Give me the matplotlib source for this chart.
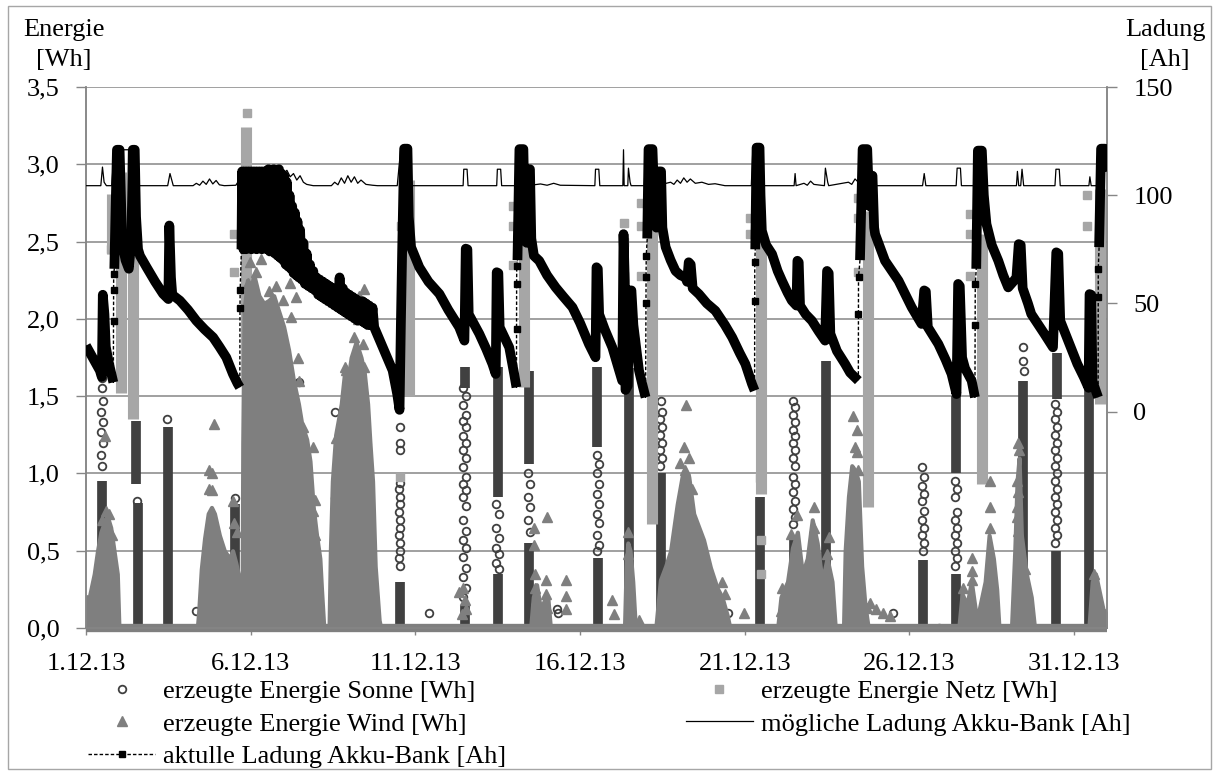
import numpy as np
import matplotlib
matplotlib.use('Agg')
import matplotlib.pyplot as plt
from matplotlib.ticker import FuncFormatter
from matplotlib.patches import Rectangle

plt.rcParams['font.family'] = ['Liberation Serif', 'DejaVu Serif']
plt.rcParams['font.size'] = 19

# x = days since 1.12.13 00:00
x_tick_pos = [0, 5, 10, 15, 20, 25, 30]
x_tick_labels = ['1.12.13', '6.12.13', '11.12.13', '16.12.13', '21.12.13', '26.12.13', '31.12.13']
left_ticks = [0.0, 0.5, 1.0, 1.5, 2.0, 2.5, 3.0, 3.5]
right_ticks = [0, 50, 100, 150]

# erzeugte Energie Sonne [Wh]: dense columns (day, from, to) and single circles (day, Wh)
sun_columns = [(0.49, 0.0, 0.95), (1.53, 0.93, 1.34), (1.58, 0.0, 0.81), (2.49, 0.0, 1.30),
               (4.52, 0.05, 0.80), (9.52, 0.0, 0.30), (11.5, 1.55, 1.69), (11.5, 0.0, 0.15),
               (12.5, 0.85, 1.69), (12.5, 0.0, 0.35), (13.45, 1.06, 1.66), (13.45, 0.0, 0.55),
               (15.52, 1.17, 1.69), (15.55, 0.0, 0.45), (16.48, 0.0, 1.68), (17.45, 0.0, 1.0),
               (20.47, 0.0, 0.85), (21.5, 0.0, 0.6), (22.47, 0.0, 1.73), (25.4, 0.0, 0.44),
               (26.43, 1.0, 1.5), (26.43, 0.0, 0.35), (28.45, 0.0, 1.6), (29.47, 1.48, 1.78),
               (29.44, 0.0, 0.5), (30.45, 0.0, 1.62)]
sun_points = [(0.49, 1.05), (0.46, 1.12), (0.52, 1.2), (0.47, 1.27), (0.51, 1.33), (0.46, 1.4),
              (0.52, 1.47), (0.48, 1.55), (0.5, 1.62), (1.56, 0.82), (2.47, 1.35), (3.35, 0.11),
              (4.52, 0.84), (6.48, 1.59), (7.55, 1.40), (7.55, 0.84), (7.55, 0.74),
              (9.52, 0.4), (9.5, 0.45), (9.54, 0.5), (9.52, 0.55), (9.5, 0.6), (9.54, 0.65),
              (9.52, 0.7), (9.5, 0.75), (9.54, 0.8), (9.52, 0.85), (9.5, 0.9), (9.53, 0.94),
              (9.52, 1.15), (9.52, 1.2), (9.52, 1.3), (10.4, 0.1),
              (11.46, 1.55), (11.53, 1.5), (11.46, 1.44), (11.53, 1.38), (11.46, 1.34), (11.53, 1.3),
              (11.46, 1.24), (11.53, 1.2), (11.46, 1.15), (11.53, 1.1), (11.46, 1.04), (11.53, 0.98),
              (11.46, 0.93), (11.53, 0.89), (11.46, 0.85), (11.53, 0.79), (11.46, 0.7), (11.53, 0.63),
              (11.46, 0.57), (11.53, 0.52), (11.46, 0.46), (11.53, 0.39), (11.46, 0.33), (11.53, 0.26),
              (11.46, 0.2),
              (12.46, 0.8), (12.54, 0.74), (12.46, 0.65), (12.54, 0.58), (12.46, 0.52), (12.54, 0.48),
              (12.46, 0.42), (12.54, 0.38),
              (13.42, 1.0), (13.48, 0.93), (13.42, 0.85), (13.48, 0.78), (13.42, 0.7), (13.48, 0.62),
              (14.3, 0.12), (14.34, 0.1),
              (15.52, 1.12), (15.57, 1.06), (15.52, 1.0), (15.57, 0.93), (15.52, 0.87), (15.57, 0.8),
              (15.52, 0.74), (15.57, 0.68), (15.52, 0.6), (15.57, 0.54), (15.52, 0.5),
              (17.42, 1.05), (17.48, 1.1), (17.42, 1.15), (17.48, 1.2), (17.42, 1.25), (17.48, 1.3),
              (17.42, 1.35), (17.48, 1.4), (17.45, 1.47), (19.5, 0.1),
              (21.47, 1.47), (21.53, 1.43), (21.47, 1.38), (21.53, 1.33), (21.47, 1.28), (21.53, 1.24),
              (21.47, 1.2), (21.53, 1.15), (21.47, 1.1), (21.53, 1.05), (21.47, 0.98), (21.53, 0.93),
              (21.47, 0.88), (21.53, 0.82), (21.47, 0.77), (21.53, 0.72), (21.47, 0.67),
              (24.5, 0.1), (25.9, 0.0),
              (25.37, 1.04), (25.43, 0.98), (25.37, 0.92), (25.43, 0.87), (25.37, 0.82), (25.43, 0.76),
              (25.37, 0.7), (25.43, 0.65), (25.37, 0.6), (25.43, 0.55), (25.4, 0.5),
              (26.4, 0.95), (26.46, 0.9), (26.4, 0.85), (26.46, 0.75), (26.4, 0.7), (26.46, 0.65),
              (26.4, 0.6), (26.46, 0.55), (26.4, 0.5), (26.46, 0.45), (26.4, 0.4),
              (28.45, 1.82), (28.45, 1.73), (28.47, 1.66),
              (29.41, 1.45), (29.47, 1.4), (29.41, 1.35), (29.47, 1.3), (29.41, 1.25), (29.47, 1.2),
              (29.41, 1.15), (29.47, 1.1), (29.41, 1.05), (29.47, 1.0), (29.41, 0.95), (29.47, 0.9),
              (29.41, 0.85), (29.47, 0.8), (29.41, 0.75), (29.47, 0.7), (29.41, 0.65), (29.47, 0.6),
              (29.41, 0.55)]

# erzeugte Energie Netz [Wh]
netz_columns = [(0.8, 2.42, 2.81), (1.06, 1.52, 2.95), (1.42, 1.35, 3.0), (4.85, 1.58, 3.24),
                (9.82, 1.5, 2.9), (13.3, 1.56, 2.9), (17.2, 0.67, 2.9), (20.48, 0.87, 2.55),
                (23.75, 0.78, 2.7), (27.2, 0.93, 2.55), (30.8, 1.45, 2.84)]
netz_points = [(4.88, 3.33), (4.5, 2.55), (4.5, 2.3), (9.55, 2.6), (9.52, 0.98), (12.95, 2.73),
               (12.95, 2.6), (12.95, 2.35), (16.33, 2.62), (16.33, 2.5), (16.35, 2.28),
               (16.85, 2.75), (16.85, 2.6), (16.85, 2.28), (20.15, 2.65), (20.15, 2.55),
               (20.45, 0.97), (20.5, 0.57), (20.5, 0.35), (23.45, 2.78), (23.45, 2.65),
               (23.45, 2.3), (26.85, 2.68), (26.85, 2.55), (26.85, 2.28), (30.4, 2.8),
               (30.4, 2.6), (0.75, 2.45)]

# erzeugte Energie Wind [Wh]: outline of the dense clusters, and single triangles
wind_env_day = [0.0, 0.05, 0.15, 0.25, 0.35, 0.45, 0.55, 0.65, 0.75, 0.85, 0.95, 1.0,
                3.38, 3.42, 3.5, 3.6, 3.71, 3.81, 3.9, 4.05, 4.2, 4.36, 4.45, 4.55, 4.67, 4.74,
                4.76, 4.8, 4.9, 5.0, 5.1, 5.25, 5.4, 5.55, 5.7, 5.85, 6.0, 6.15, 6.3, 6.45, 6.55,
                6.7, 6.8, 6.9, 7.0, 7.1, 7.15, 7.22,
                7.38, 7.42, 7.48, 7.58, 7.75, 7.85, 7.95, 8.05, 8.2, 8.35, 8.45, 8.55, 8.62, 8.7,
                8.78, 8.9, 8.95,
                13.5, 13.58, 13.68, 13.8, 13.92, 14.02, 14.1,
                16.35, 16.4, 16.45, 16.52, 16.6, 16.68,
                17.3, 17.44, 17.6, 17.75, 17.95, 18.1, 18.3, 18.45, 18.75, 18.96, 19.16, 19.31,
                19.47, 19.55,
                21.0, 21.1, 21.3, 21.45, 21.6, 21.75, 21.9, 22.05, 22.2, 22.35, 22.5, 22.65, 22.75,
                23.0, 23.05, 23.15, 23.25, 23.35, 23.45, 23.55, 23.65, 23.75,
                26.5, 26.6, 26.75, 26.88, 27.0, 27.1, 27.3, 27.42, 27.55, 27.65, 27.72,
                28.1, 28.2, 28.27, 28.33, 28.4, 28.55, 28.7, 28.8,
                30.45, 30.55, 30.65, 30.8, 30.95, 31.0]
wind_env_top = [0.12, 0.15, 0.25, 0.35, 0.5, 0.62, 0.68, 0.72, 0.65, 0.5, 0.35, 0.0,
                0.0, 0.1, 0.38, 0.58, 0.74, 0.78, 0.74, 0.6, 0.5, 0.45, 0.5, 0.42, 0.3, 0.15,
                1.2, 2.05, 2.25, 2.2, 2.28, 2.15, 2.1, 2.12, 2.15, 2.05, 1.95, 1.8, 1.6, 1.45, 1.32,
                1.22, 1.08, 0.78, 0.6, 0.45, 0.25, 0.0,
                0.0, 0.5, 0.95, 1.25, 1.45, 1.65, 1.6, 1.75, 1.85, 1.75, 1.65, 1.45, 1.2, 0.95,
                0.4, 0.05, 0.0,
                0.0, 0.2, 0.28, 0.12, 0.18, 0.2, 0.0,
                0.0, 0.4, 0.55, 0.5, 0.3, 0.0,
                0.0, 0.31, 0.4, 0.5, 0.8, 0.98, 0.98, 0.74, 0.57, 0.39, 0.26, 0.2,
                0.08, 0.0,
                0.0, 0.2, 0.3, 0.52, 0.62, 0.35, 0.45, 0.7, 0.55, 0.3, 0.45, 0.3, 0.0,
                0.0, 0.5, 0.85, 1.05, 1.02, 0.95, 0.4, 0.15, 0.0,
                0.0, 0.22, 0.15, 0.3, 0.12, 0.1, 0.3, 0.6, 0.45, 0.25, 0.0,
                0.0, 0.5, 0.95, 1.1, 0.6, 0.35, 0.2, 0.0,
                0.0, 0.3, 0.35, 0.2, 0.05, 0.0]
wind_points = [(0.58, 1.24), (0.62, 0.76), (0.7, 0.74), (0.5, 0.7), (0.8, 0.6), (0.04, 0.18),
               (3.9, 1.32), (3.74, 1.02), (3.84, 1.0), (3.72, 0.9), (3.82, 0.89), (4.46, 0.82),
               (4.5, 0.68), (4.58, 0.62),
               (4.97, 2.37), (5.32, 2.39), (4.92, 2.23), (5.22, 2.14), (5.78, 2.21), (5.98, 2.12),
               (6.18, 2.23), (6.38, 2.14), (6.23, 2.01), (6.43, 1.75), (6.48, 1.6), (6.38, 1.41),
               (6.89, 1.17), (6.94, 0.83), (6.89, 0.76), (6.94, 0.6), (6.6, 1.3), (5.15, 2.3),
               (5.55, 2.18),
               (7.85, 1.69), (7.9, 1.51), (8.45, 2.19), (8.3, 2.15), (8.15, 1.88), (8.4, 1.84),
               (7.9, 1.67), (8.45, 1.69), (8.0, 1.6), (7.59, 1.23), (8.5, 1.22), (8.25, 2.0),
               (11.34, 0.23), (11.45, 0.26), (11.5, 0.18), (11.42, 0.09), (11.55, 0.12),
               (13.6, 0.65), (13.6, 0.54), (14.0, 0.72), (13.96, 0.31), (13.97, 0.22), (14.0, 0.13),
               (14.56, 0.31), (14.58, 0.21), (14.58, 0.12), (13.62, 0.35), (13.64, 0.26),
               (13.66, 0.18),
               (15.98, 0.18), (16.02, 0.09), (16.79, 0.05), (16.45, 0.62), (16.47, 0.48),
               (18.23, 1.44), (18.15, 1.17), (18.05, 1.07), (18.3, 1.1), (18.2, 1.02), (18.4, 0.9),
               (19.97, 0.1), (19.3, 0.3), (19.4, 0.22),
               (21.13, 0.26), (21.1, 0.11), (21.4, 0.61), (21.6, 0.73), (22.09, 0.78),
               (22.09, 0.65), (22.55, 0.59), (22.5, 0.48),
               (23.3, 1.37), (23.4, 1.28), (23.35, 1.17), (23.4, 1.14), (23.45, 1.02), (23.7, 0.13),
               (23.8, 0.16), (24.0, 0.12), (24.2, 0.1), (24.4, 0.08),
               (26.89, 0.45), (26.89, 0.37), (26.9, 0.31), (27.44, 0.95), (27.44, 0.78),
               (27.44, 0.65), (26.63, 0.26),
               (28.3, 1.2), (28.32, 1.15), (28.28, 0.95), (28.3, 0.88), (28.28, 0.78), (28.28, 0.72),
               (28.3, 0.63), (28.3, 0.5), (28.52, 0.38), (30.6, 0.35), (30.95, 0.09)]
wind_base_day = [0.0, 31.0]
wind_base = [0.0, 0.0]

# mögliche Ladung Akku-Bank [Ah]
moeglich = [(0.0, 104.4), (0.45, 104.4), (0.5, 113), (0.55, 106), (0.62, 104.4), (0.78, 104.4),
            (0.86, 121), (1.55, 121), (1.6, 104.4), (2.48, 104.4), (2.55, 110), (2.65, 104.4),
            (3.25, 104.4), (3.35, 105.5), (3.45, 104.6), (3.55, 106.5), (3.65, 105), (3.75, 107.5),
            (3.85, 105.2), (3.95, 106.8), (4.05, 104.8), (4.2, 104.4), (4.55, 104.6), (4.65, 107),
            (4.72, 111), (5.5, 111), (5.7, 112.5), (5.8, 110.5), (5.9, 113), (6.0, 110), (6.1, 111.5),
            (6.2, 108.5), (6.3, 110), (6.4, 107), (6.5, 109), (6.6, 106), (6.7, 105), (6.9, 104.4),
            (7.45, 104.4), (7.55, 106), (7.65, 104.8), (7.75, 108), (7.85, 105.5), (7.95, 109),
            (8.05, 106), (8.15, 108.5), (8.25, 105.5), (8.35, 107), (8.5, 105), (8.7, 104.6),
            (8.85, 104.4), (9.45, 104.4), (9.55, 120.6), (9.75, 120.6), (9.85, 104.4),
            (11.45, 104.4), (11.47, 112), (11.57, 112), (11.6, 104.4), (12.47, 104.4), (12.49, 112),
            (12.59, 112), (12.62, 104.4), (13.05, 104.4), (13.12, 121.3), (13.35, 121.3),
            (13.4, 104.4), (13.8, 105.2), (14.0, 104.6), (14.2, 105.5), (14.4, 104.6),
            (15.45, 104.4), (15.47, 112), (15.57, 112), (15.6, 104.4), (16.3, 104.4), (16.32, 121),
            (16.34, 104.4), (16.45, 104.4), (16.47, 112.5), (16.52, 106), (16.55, 104.4),
            (16.95, 104.4), (17.0, 121.3), (17.28, 121.3), (17.32, 104.4), (17.75, 106),
            (17.85, 105), (17.95, 107), (18.05, 105.5), (18.15, 108), (18.25, 106), (18.35, 107.5),
            (18.5, 105.5), (18.7, 106), (18.9, 105), (19.1, 105.3), (19.4, 104.4), (20.2, 104.4),
            (20.25, 122), (20.42, 122), (20.46, 104.4), (21.5, 104.4), (21.53, 110), (21.56, 104.4),
            (21.8, 105.5), (21.9, 104.6), (22.0, 106.5), (22.1, 105), (22.42, 104.4),
            (22.45, 112.5), (22.52, 106), (22.55, 104.4), (23.15, 106), (23.25, 105),
            (23.35, 107.5), (23.45, 106), (23.5, 121.3), (23.8, 121.3), (23.85, 104.4),
            (25.4, 104.4), (25.45, 110), (25.5, 104.4), (26.42, 104.4), (26.45, 112.5),
            (26.55, 112.5), (26.58, 104.4), (26.95, 104.4), (27.0, 120.6), (27.2, 120.6),
            (27.25, 104.4), (28.25, 104.4), (28.28, 111), (28.32, 104.4), (28.38, 104.4),
            (28.42, 112), (28.47, 104.4), (29.42, 104.4), (29.45, 112), (29.55, 112),
            (29.58, 104.4), (30.45, 104.4), (30.48, 108.5), (30.52, 104.4), (30.7, 104.4),
            (30.76, 121.3), (31.0, 121.3)]

# aktulle Ladung Akku-Bank [Ah]: (day, Ah, 1 = sparse point on a data gap)
ladung = [(0.0, 30.5, 0), (0.2, 25, 0), (0.42, 19, 0), (0.48, 16, 0), (0.51, 54, 0), (0.56, 45, 0),
          (0.6, 30, 0), (0.7, 22, 0), (0.83, 13.5, 0),
          (0.835, 42, 1), (0.838, 56, 1), (0.84, 63.6, 1),
          (0.86, 66, 0), (0.9, 95, 0), (0.94, 121, 0), (1.02, 121, 0), (1.06, 100, 0), (1.1, 78, 0),
          (1.2, 70, 0), (1.3, 66, 0), (1.38, 80, 0), (1.42, 121, 0), (1.48, 121, 0), (1.52, 90, 0),
          (1.58, 75, 0), (1.64, 72, 0), (1.84, 66.7, 0), (2.1, 60, 0), (2.34, 54.4, 0),
          (2.5, 52, 0), (2.53, 86, 0), (2.58, 62, 0), (2.62, 54, 0), (2.85, 51.3, 0),
          (3.1, 47, 0), (3.35, 42, 0), (3.6, 38, 0), (3.86, 34.3, 0), (4.05, 30, 0),
          (4.26, 25, 0), (4.46, 17.4, 0), (4.6, 13, 0), (4.67, 11.2, 0),
          (4.675, 48, 1), (4.68, 56, 1),
          (4.72, 75, 0), (4.74, 111, 0), (4.78, 75, 0), (4.82, 111, 0), (4.86, 75, 0),
          (4.9, 111, 0), (4.94, 76, 0), (4.98, 111, 0), (5.02, 75, 0), (5.06, 111, 0),
          (5.1, 76, 0), (5.14, 111, 0), (5.18, 75, 0), (5.22, 111, 0), (5.26, 76, 0),
          (5.3, 111, 0), (5.34, 75, 0), (5.38, 111, 0), (5.42, 76, 0), (5.46, 111, 0),
          (5.5, 75, 0), (5.54, 112, 0), (5.58, 74, 0), (5.62, 111, 0), (5.66, 74, 0),
          (5.7, 112, 0), (5.74, 73, 0), (5.78, 111, 0), (5.82, 72, 0), (5.86, 112, 0),
          (5.9, 71, 0), (5.94, 110, 0), (5.98, 70, 0), (6.02, 109, 0), (6.06, 68, 0),
          (6.1, 106, 0), (6.14, 67, 0), (6.18, 100, 0), (6.22, 66, 0), (6.26, 95, 0),
          (6.3, 64, 0), (6.34, 92, 0), (6.38, 63, 0), (6.42, 88, 0), (6.46, 62, 0),
          (6.5, 84, 0), (6.55, 61, 0), (6.6, 78, 0), (6.65, 59, 0), (6.7, 73, 0),
          (6.75, 58, 0), (6.8, 68, 0), (6.85, 57, 0), (6.9, 65, 0), (6.95, 56, 0),
          (7.0, 62, 0), (7.05, 54, 0), (7.1, 61, 0), (7.15, 53, 0), (7.2, 60, 0), (7.25, 52, 0),
          (7.3, 59, 0), (7.35, 51, 0), (7.4, 58, 0), (7.45, 50, 0), (7.5, 57, 0), (7.55, 49, 0),
          (7.6, 56, 0), (7.65, 48, 0), (7.7, 62, 0), (7.75, 47, 0), (7.8, 57, 0), (7.85, 46, 0),
          (7.9, 55, 0), (7.95, 45, 0), (8.0, 54, 0), (8.05, 44, 0), (8.1, 53, 0), (8.15, 43, 0),
          (8.2, 52, 0), (8.25, 42, 0), (8.3, 51, 0), (8.35, 42, 0), (8.4, 51, 0), (8.45, 41, 0),
          (8.5, 50, 0), (8.55, 40, 0), (8.6, 49, 0), (8.65, 40, 0), (8.7, 48, 0), (8.75, 39, 0),
          (9.01, 29.7, 0), (9.31, 19, 0), (9.45, 8, 0), (9.52, 0.8, 0), (9.56, 40, 0),
          (9.6, 75, 0), (9.66, 121.5, 0), (9.76, 121.5, 0), (9.8, 90, 0), (9.87, 76, 0),
          (10.12, 66.7, 0), (10.4, 60, 0), (10.73, 54.4, 0), (11.0, 47, 0), (11.33, 39, 0),
          (11.49, 32.8, 0), (11.53, 75.3, 0), (11.58, 75, 0), (11.62, 45, 0), (11.94, 36, 0),
          (12.15, 29, 0), (12.34, 22, 0), (12.44, 17.4, 0), (12.47, 64.4, 0), (12.52, 64, 0),
          (12.56, 39, 0), (12.85, 29.7, 0), (13.0, 17.4, 0), (13.07, 11.2, 0),
          (13.072, 38.2, 1), (13.075, 59, 1), (13.078, 67.4, 1),
          (13.1, 70, 0), (13.16, 121.3, 0), (13.28, 121.3, 0), (13.32, 90, 0), (13.38, 78, 0),
          (13.42, 112, 0), (13.48, 112, 0), (13.52, 80, 0), (13.6, 72, 0), (13.76, 69.7, 0),
          (14.0, 63, 0), (14.26, 57.4, 0), (14.5, 53, 0), (14.77, 48.2, 0), (15.0, 41, 0),
          (15.27, 31.2, 0), (15.47, 25.1, 0), (15.5, 66.7, 0), (15.54, 66, 0), (15.58, 45, 0),
          (15.75, 38, 0), (15.98, 29.7, 0), (16.15, 21, 0), (16.28, 14.3, 0), (16.32, 82, 0),
          (16.36, 60, 0), (16.38, 10, 0), (16.45, 12, 0), (16.5, 56, 0), (16.56, 56, 0),
          (16.62, 40, 0), (16.79, 19, 0), (16.9, 12, 0), (16.99, 6.6, 0),
          (17.0, 50, 1), (17.005, 62, 1), (17.01, 72, 1),
          (17.04, 80, 0), (17.08, 121.3, 0), (17.2, 121.3, 0), (17.25, 100, 0), (17.32, 85, 0),
          (17.38, 111, 0), (17.46, 111, 0), (17.5, 85, 0), (17.6, 76, 0), (17.75, 70, 0),
          (17.9, 65, 0), (18.05, 63, 0), (18.2, 62, 0), (18.25, 60, 0), (18.3, 69, 0),
          (18.36, 68, 0), (18.42, 57, 0), (18.61, 54.3, 0), (18.85, 50, 0), (19.11, 46.6, 0),
          (19.4, 40, 0), (19.62, 34.3, 0), (19.85, 27, 0), (20.02, 22, 0), (20.22, 12.8, 0),
          (20.3, 9.7, 0),
          (20.302, 51.3, 1), (20.305, 69, 1),
          (20.32, 75, 0), (20.36, 122, 0), (20.45, 122, 0), (20.48, 100, 0), (20.52, 83.6, 0),
          (20.65, 77, 0), (20.83, 72.8, 0), (21.0, 65, 0), (21.13, 60.5, 0), (21.3, 55, 0),
          (21.43, 51.3, 0), (21.57, 49, 0), (21.6, 69.7, 0), (21.64, 69, 0), (21.68, 49, 0),
          (21.85, 45, 0), (22.04, 42, 0), (22.25, 37, 0), (22.44, 32.8, 0), (22.5, 65, 0),
          (22.55, 64, 0), (22.6, 36, 0), (22.8, 28, 0), (23.05, 22, 0), (23.2, 18, 0),
          (23.35, 15.8, 0), (23.45, 14.3, 0),
          (23.452, 45, 1), (23.455, 62, 1),
          (23.5, 70, 0), (23.58, 121.3, 0), (23.72, 121.3, 0), (23.78, 95, 0), (23.83, 109, 0),
          (23.88, 109, 0), (23.93, 85, 0), (23.96, 82, 0), (24.26, 69.7, 0), (24.67, 60.5, 0),
          (25.07, 48.2, 0), (25.37, 40.5, 0), (25.45, 56, 0), (25.5, 55.5, 0), (25.56, 39, 0),
          (25.88, 31.2, 0), (26.1, 24, 0), (26.28, 17.4, 0), (26.43, 8.1, 0), (26.48, 59, 0),
          (26.53, 58, 0), (26.6, 25, 0), (26.69, 20, 0), (26.89, 14.3, 0), (26.99, 6.6, 0),
          (26.995, 40, 1), (27.0, 59, 1),
          (27.03, 66, 0), (27.08, 120.6, 0), (27.2, 120.6, 0), (27.26, 100, 0), (27.34, 86.7, 0),
          (27.5, 77, 0), (27.7, 69.7, 0), (27.85, 63, 0), (28.0, 57.4, 0), (28.15, 60, 0),
          (28.25, 62, 0), (28.32, 77.4, 0), (28.38, 77, 0), (28.44, 57, 0), (28.6, 50, 0),
          (28.7, 45.1, 0), (29.1, 35.9, 0), (29.36, 29.7, 0), (29.46, 73.6, 0), (29.52, 73, 0),
          (29.58, 42, 0), (29.9, 29.7, 0), (30.1, 22, 0), (30.3, 15.8, 0), (30.44, 11, 0),
          (30.47, 54.3, 0), (30.52, 54, 0), (30.56, 14, 0), (30.65, 10, 0), (30.73, 6.6, 0),
          (30.732, 53, 1), (30.735, 66, 1),
          (30.76, 76, 0), (30.82, 121.5, 0), (30.94, 121.5, 0), (30.98, 112, 0), (31.0, 111, 0)]

SUN = '#404040'
WIND = '#7f7f7f'
NETZ = '#a6a6a6'
GRID = '#868686'

fig = plt.figure(figsize=(12.13, 7.72), dpi=100)
ax = fig.add_axes([86 / 1213, 1 - 628 / 772, (1107 - 86) / 1213, (628 - 87) / 772])
ax2 = ax.twinx()

# Sonne
sc_d, sc_lo, sc_hi = zip(*sun_columns)
ax.vlines(sc_d, sc_lo, sc_hi, colors=SUN, lw=7, zorder=2)
sp_d, sp_v = zip(*sun_points)
h_sun, = ax.plot(sp_d, sp_v, ls='none', marker='o', ms=5.5, mfc='none', mec=SUN, mew=1.3,
                 zorder=2.1)

# Netz
nc_d, nc_lo, nc_hi = zip(*netz_columns)
ax.vlines(nc_d, nc_lo, nc_hi, colors=NETZ, lw=8, zorder=2.2)
np_d, np_v = zip(*netz_points)
h_netz, = ax.plot(np_d, np_v, ls='none', marker='s', ms=6, color=NETZ, zorder=2.3)

# Wind
ax.fill_between(wind_env_day, 0, wind_env_top, facecolor=WIND, edgecolor=WIND, lw=3, zorder=2.4)
wp_d, wp_v = zip(*wind_points)
h_wind, = ax.plot(wp_d, wp_v, ls='none', marker='^', ms=7.5, color=WIND, zorder=2.5)
ax.plot(wind_base_day, wind_base, color=WIND, lw=6, solid_capstyle='butt', zorder=2.6,
        clip_on=False)

# Ladung (right axis)
m_d, m_ah = zip(*moeglich)
h_mog, = ax2.plot(m_d, m_ah, color='black', lw=0.9, zorder=3)
l_d, l_ah, l_sparse = zip(*ladung)
dense_ah = [np.nan if s else a for a, s in zip(l_ah, l_sparse)]
ax2.plot(l_d, dense_ah, color='black', lw=7, solid_joinstyle='round', solid_capstyle='butt',
         zorder=4)
h_lad, = ax2.plot(l_d, l_ah, color='black', lw=1, ls=(0, (2.5, 1.5)), marker='s', ms=4.5,
                  markevery=[i for i, s in enumerate(l_sparse) if s], zorder=4)

# axes styling
ax.set_xlim(0, 31)
ax.set_ylim(0, 3.5)
ax.set_xticks(x_tick_pos)
ax.set_xticklabels(x_tick_labels)
ax.set_yticks(left_ticks)
ax.yaxis.set_major_formatter(FuncFormatter(lambda v, p: f'{v:.1f}'.replace('.', ',')))
ax.grid(axis='y', color=GRID, lw=1.1)
ax.set_axisbelow(True)
ax.tick_params(axis='y', direction='out', length=7, width=1, color=GRID, pad=12, labelsize=19)
ax.tick_params(axis='x', direction='out', length=5, width=1, color=GRID, pad=13, labelsize=19)

ax2.set_ylim(-100, 150)
ax2.set_yticks(right_ticks)
ax2.tick_params(axis='y', direction='out', length=7, width=1, color=GRID, pad=12, labelsize=19)

for a in (ax, ax2):
    a.spines['top'].set_visible(False)
    for s in ('left', 'right', 'bottom'):
        a.spines[s].set_color(GRID)
        a.spines[s].set_linewidth(1.1)

fig.text(64 / 1213, 1 - 30 / 772, 'Energie', ha='center', va='center', fontsize=19)
fig.text(64 / 1213, 1 - 60 / 772, '[Wh]', ha='center', va='center', fontsize=19)
fig.text(1165 / 1213, 1 - 30 / 772, 'Ladung', ha='center', va='center', fontsize=19)
fig.text(1165 / 1213, 1 - 60 / 772, '[Ah]', ha='center', va='center', fontsize=19)

handles = [h_sun, h_wind, h_lad, h_netz, h_mog]
labels = ['erzeugte Energie Sonne [Wh]', 'erzeugte Energie Wind [Wh]',
          'aktulle Ladung Akku-Bank [Ah]', 'erzeugte Energie Netz [Wh]',
          'mögliche Ladung Akku-Bank [Ah]']
fig.legend(handles, labels, ncol=2, loc='upper left', bbox_to_anchor=(88 / 1213, 1 - 680 / 772),
           frameon=False, handlelength=2.55, handletextpad=0.3, columnspacing=6.8,
           labelspacing=0.33, borderpad=0, borderaxespad=0, fontsize=19)

fig.patches.append(Rectangle((8 / 1213, 3 / 772), 1203 / 1213, 763 / 772, transform=fig.transFigure,
                             fill=False, ec='#a6a6a6', lw=1))

fig.savefig('out.png', dpi=100)
